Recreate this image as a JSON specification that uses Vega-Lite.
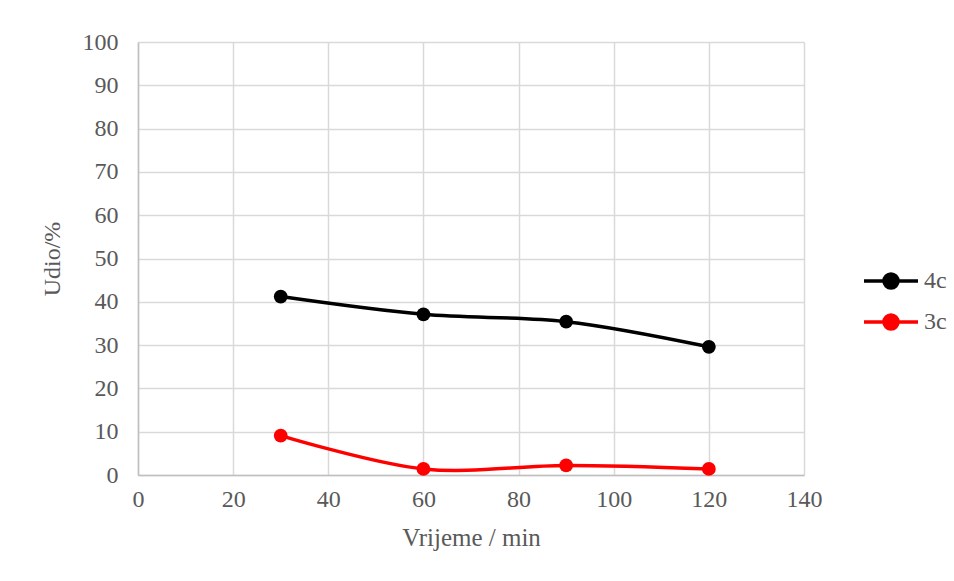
{
  "$schema": "https://vega.github.io/schema/vega-lite/v6.json",
  "width": 666,
  "height": 433,
  "autosize": {"type": "none"},
  "padding": {"left": 138, "top": 42, "right": 150, "bottom": 106},
  "background": "white",
  "config": {
    "font": "Liberation Serif",
    "view": {"stroke": null},
    "axis": {
      "labelFont": "Liberation Serif",
      "titleFont": "Liberation Serif",
      "labelColor": "#595959",
      "titleColor": "#595959",
      "titleFontWeight": "normal",
      "gridColor": "#d9d9d9",
      "gridWidth": 1.5,
      "domainColor": "#bfbfbf",
      "domainWidth": 1.5,
      "ticks": false,
      "labelFontSize": 24
    },
    "legend": {
      "labelFont": "Liberation Serif",
      "labelColor": "#595959",
      "labelFontSize": 24
    }
  },
  "data": {
    "values": [
      {"t": 30, "v": 41.2, "s": "4c"},
      {"t": 60, "v": 37.1, "s": "4c"},
      {"t": 90, "v": 35.4, "s": "4c"},
      {"t": 120, "v": 29.6, "s": "4c"},
      {"t": 30, "v": 9.1, "s": "3c"},
      {"t": 60, "v": 1.4, "s": "3c"},
      {"t": 90, "v": 2.2, "s": "3c"},
      {"t": 120, "v": 1.4, "s": "3c"}
    ]
  },
  "encoding": {
    "x": {
      "field": "t", "type": "quantitative",
      "scale": {"domain": [0, 140], "nice": false, "zero": false},
      "axis": {"values": [0, 20, 40, 60, 80, 100, 120, 140], "title": "Vrijeme / min", "titleFontSize": 25, "labelPadding": 12, "titlePadding": 14, "labelFlush": false}
    },
    "y": {
      "field": "v", "type": "quantitative",
      "scale": {"domain": [0, 100], "nice": false},
      "axis": {"values": [0, 10, 20, 30, 40, 50, 60, 70, 80, 90, 100], "title": "Udio/%", "titleFontSize": 24, "labelPadding": 20, "titlePadding": 18, "labelFlush": false}
    },
    "color": {
      "field": "s", "type": "nominal",
      "scale": {"domain": ["4c", "3c"], "range": ["#000000", "#ff0000"]},
      "legend": {
        "title": null,
        "orient": "none",
        "legendX": 741,
        "legendY": 227,
        "symbolType": "M-2.7,0H2.7M-0.7,0A0.7,0.7,0,1,1,0.7,0A0.7,0.7,0,1,1,-0.7,0Z",
        "symbolSize": 400,
        "symbolStrokeWidth": 3.5,
        "labelOffset": 21,
        "rowPadding": 13
      }
    }
  },
  "layer": [
    {"mark": {"type": "line", "interpolate": "catmull-rom", "strokeWidth": 3.5}},
    {"mark": {"type": "point", "filled": true, "size": 190, "opacity": 1}}
  ]
}
